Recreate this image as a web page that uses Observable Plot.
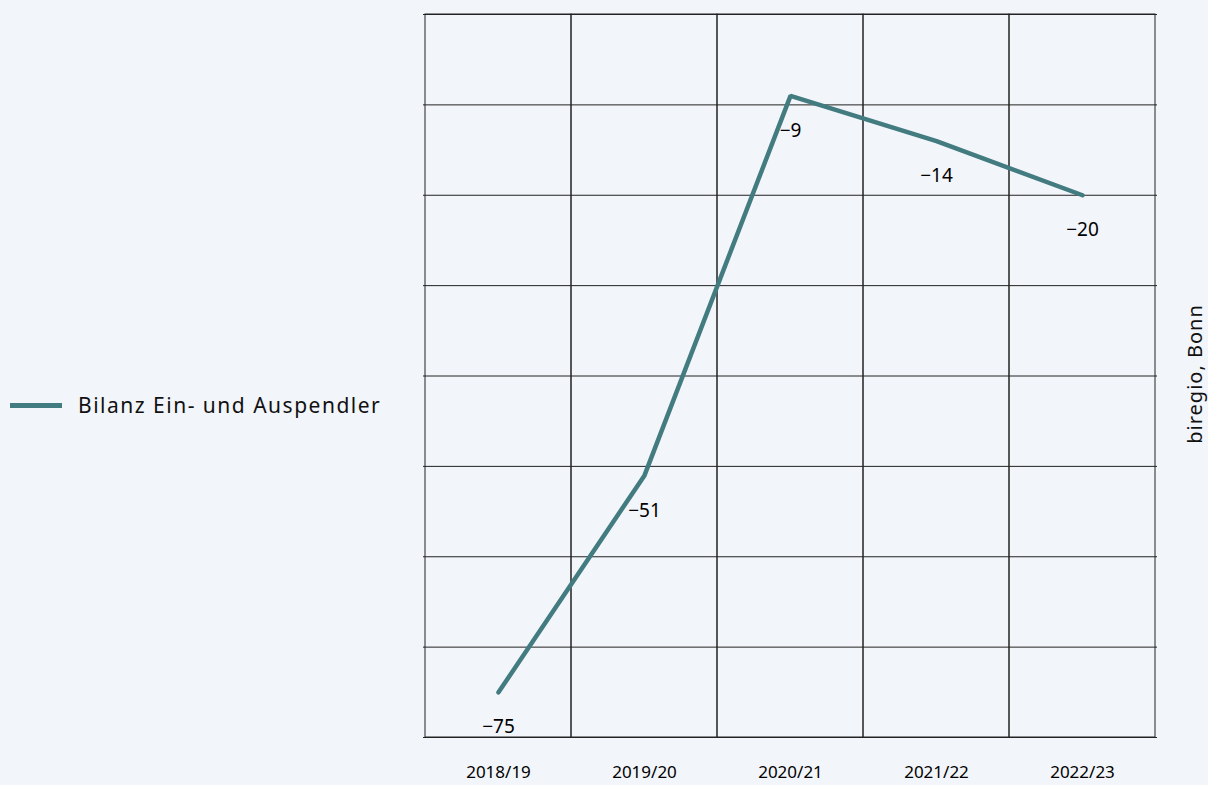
<!DOCTYPE html>
<html>
<head>
<meta charset="utf-8">
<script src="https://cdn.jsdelivr.net/npm/d3@7"></script>
<script src="https://cdn.jsdelivr.net/npm/@observablehq/plot@0.6"></script>
<style>
  html, body { margin: 0; padding: 0; background: #f2f5f9; }
  #wrap { position: relative; width: 1208px; height: 785px; font-family: "Noto Sans", sans-serif; }
  #legend { position: absolute; left: 10px; top: 390px; height: 30px; display: flex; align-items: center; font-size: 21px; font-weight: 400; color: #111; letter-spacing: 1.5px; white-space: nowrap; }
  #legend .sw { width: 52px; height: 5px; background: #437c80; margin-right: 16px; }
  #source { position: absolute; left: 1194px; top: 374px; transform: translate(-50%, -50%) rotate(-90deg); font-size: 20px; font-weight: 400; letter-spacing: 1px; color: #111; white-space: nowrap; }
</style>
</head>
<body>
<div id="wrap"></div>
<script>
const categories = ["2018/19", "2019/20", "2020/21", "2021/22", "2022/23"];
const values = [-75, -51, -9, -14, -20];
const yTicks = [0, -10, -20, -30, -40, -50, -60, -70, -80];
const seriesName = "Bilanz Ein- und Auspendler";
const sourceText = "biregio, Bonn";

const data = categories.map((c, i) => ({ year: c, value: values[i] }));
const lineColor = "#437c80";

const chart = Plot.plot({
  width: 1208,
  height: 785,
  marginLeft: 423,
  marginRight: 51,
  marginTop: 14,
  marginBottom: 48,
  style: { background: "transparent", fontFamily: "Noto Sans, sans-serif" },
  x: { type: "band", domain: categories, padding: 0, label: null },
  y: { domain: [-80, 0], label: null, axis: null },
  marks: [
    Plot.cell(categories, { x: d => d, fill: "none", stroke: "#222", strokeWidth: 1, inset: 0 }),
    Plot.ruleY(yTicks, { stroke: "#222", strokeWidth: 1 }),
    Plot.axisX({ tickSize: 0, tickPadding: 28, fontSize: 17, fontWeight: 400, fill: "#000", label: null, style: { letterSpacing: "-0.2px" } }),
    Plot.line(data, { x: "year", y: "value", stroke: lineColor, strokeWidth: 4.5, strokeLinejoin: "miter", strokeLinecap: "round" }),
    Plot.text(data, { x: "year", y: "value", text: d => "\u2212" + Math.abs(d.value), dy: 35, fontSize: 19, fontWeight: 400, fill: "#000", letterSpacing: "-1px" })
  ]
});

const wrap = document.getElementById("wrap");
wrap.appendChild(chart);
chart.style.position = "absolute";
chart.style.left = "0";
chart.style.top = "0";

const legend = document.createElement("div");
legend.id = "legend";
legend.innerHTML = '<div class="sw"></div><span></span>';
legend.querySelector("span").textContent = seriesName;
wrap.appendChild(legend);

const src = document.createElement("div");
src.id = "source";
src.textContent = sourceText;
wrap.appendChild(src);
</script>
</body>
</html>
